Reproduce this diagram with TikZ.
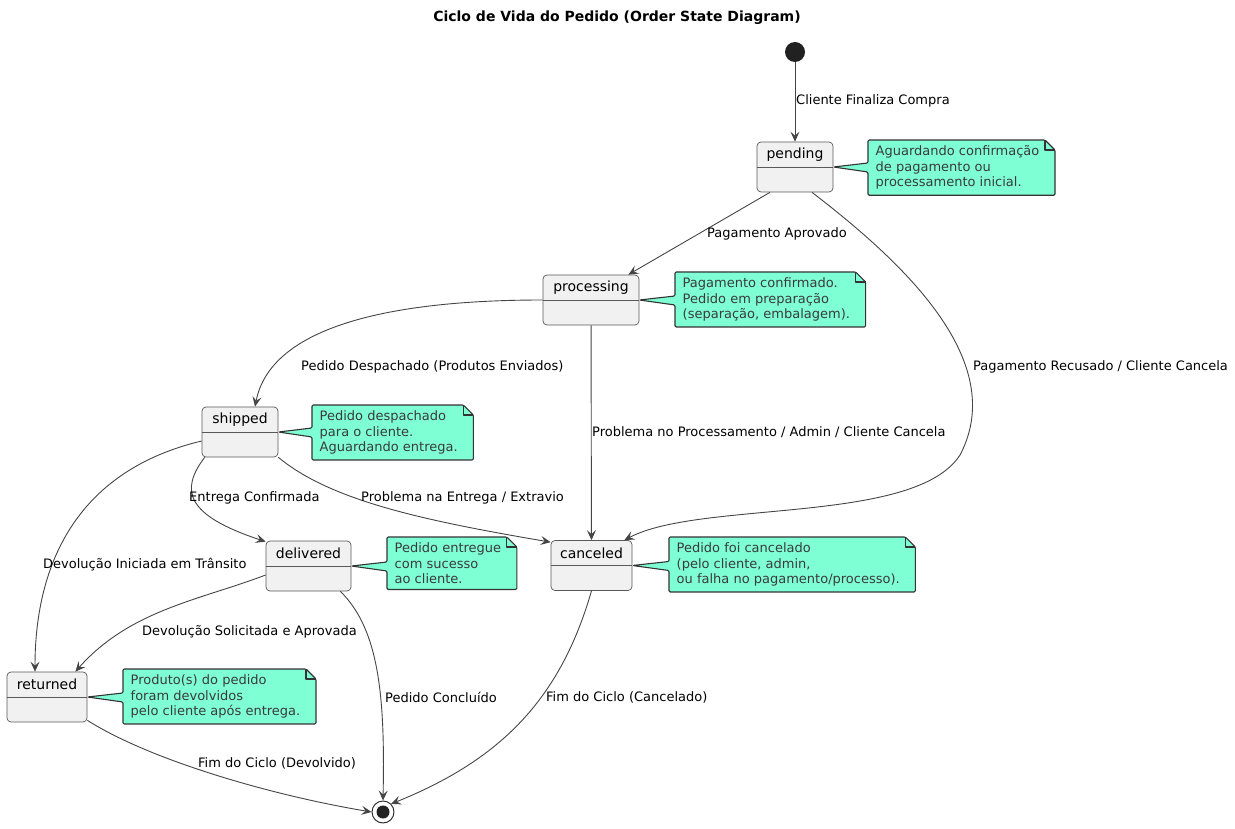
\documentclass[tikz,border=0pt]{standalone}
\usepackage{fontspec}
\setmainfont{DejaVu Sans}
\usetikzlibrary{arrows.meta,calc,backgrounds}
\definecolor{notefill}{HTML}{7FFFD4}
\definecolor{statefill}{HTML}{F1F1F1}
\definecolor{edgecol}{HTML}{454545}
\definecolor{notetxt}{HTML}{3A3A3A}
\tikzset{
  statebox/.style={draw=black!65, fill=statefill, rounded corners=4pt, line width=0.7pt, minimum height=50pt, inner sep=0pt},
  statename/.style={font=\fontsize{14}{16}\selectfont, inner sep=0pt},
  sep/.style={draw=black!65, line width=0.7pt},
  notebody/.style={align=left, anchor=north west, inner xsep=7.5pt, inner ysep=5.5pt, text=notetxt, font=\fontsize{13}{15.5}\selectfont},
  noteshape/.style={fill=notefill, draw=black!80, line width=1.1pt, line join=round, rounded corners=1.2pt},
  edge/.style={draw=edgecol, line width=0.9pt, -{Stealth[length=10pt,width=9pt,inset=4pt]}},
  lbl/.style={anchor=west, inner sep=0pt, font=\fontsize{13}{15}\selectfont},
}
\newcommand{\mkstate}[4]{% name, center, width, text
  \node[statebox, minimum width=#3] (#1) at #2 {};
  \node[statename] (#1-name) at ($(#1.north)!0.5!(#1.center)$) {#4};
  \draw[sep] (#1.west) -- (#1.east);
}
\newcommand{\drawnote}[2]{% note node, tip anchor (no parentheses)
  \begin{scope}[on background layer]
  \path[noteshape] (#1.north west) -- ($(#1.north east)+(-2,0)$) -- ($(#1.north east)+(8,10)$)
     -- ($(#1.south east)+(8,0)$) -- (#1.south west) -- ($(#1.west |- #2)+(0,5)$) -- (#2)
     -- ($(#1.west |- #2)+(0,-4)$) -- cycle;
  \draw[black!80, line width=1.1pt, line join=round] ($(#1.north east)+(-2,0)$) -- ($(#1.north east)+(-2,10)$) -- ($(#1.north east)+(8,10)$);
  \end{scope}
}
\begin{document}
\begin{tikzpicture}[x=1pt,y=-1pt]
\useasboundingbox (0,0) rectangle (1235,829);
\node[font=\fontsize{14}{16}\selectfont\bfseries] (title) at (617,18) {Ciclo de Vida do Pedido (Order State Diagram)};

% initial and final
\node[circle, fill=black!87, minimum size=20pt, inner sep=0pt] (init) at (795,52) {};
\node[circle, draw=black!87, line width=0.9pt, minimum size=22pt, inner sep=0pt] (final) at (383,812) {};
\node[circle, fill=black!87, minimum size=13pt, inner sep=0pt] (finaldot) at (final.center) {};

% states
\mkstate{pending}{(795,167)}{76pt}{pending}
\mkstate{processing}{(591,300)}{96pt}{processing}
\mkstate{shipped}{(240,432)}{76pt}{shipped}
\mkstate{delivered}{(308.5,566)}{85pt}{delivered}
\mkstate{canceled}{(591.5,565.5)}{81pt}{canceled}
\mkstate{returned}{(47,697)}{80pt}{returned}

% notes
\node[notebody] (npending) at (868,140) {Aguardando confirmação\\de pagamento ou\\processamento inicial.};
\drawnote{npending}{pending.east}
\node[notebody] (nprocessing) at (675,272) {Pagamento confirmado.\\Pedido em preparação\\(separação, embalagem).};
\drawnote{nprocessing}{processing.east}
\node[notebody] (nshipped) at (312,405) {Pedido despachado\\para o cliente.\\Aguardando entrega.};
\drawnote{nshipped}{shipped.east}
\node[notebody] (ndelivered) at (387,537) {Pedido entregue\\com sucesso\\ao cliente.};
\drawnote{ndelivered}{delivered.east}
\node[notebody] (ncanceled) at (669,537) {Pedido foi cancelado\\(pelo cliente, admin,\\ou falha no pagamento/processo).};
\drawnote{ncanceled}{canceled.east}
\node[notebody] (nreturned) at (123,669) {Produto(s) do pedido\\foram devolvidos\\pelo cliente após entrega.};
\drawnote{nreturned}{returned.east}

% edges
\draw[edge] (init) -- (pending.north);
\node[lbl] (l1) at (796,101) {Cliente Finaliza Compra};

\draw[edge] ($(pending.south)+(-25,0)$) -- ($(processing.north east)+(-11,0)$);
\node[lbl] (l2) at (707,234) {Pagamento Aprovado};

\draw[edge] ($(pending.south)+(17,0)$) .. controls (900,260) and (1010,360) .. (960,455)
   .. controls (915,525) and (700,500) .. ($(canceled.north east)+(-8,0)$);
\node[lbl] (l3) at (973,367) {Pagamento Recusado / Cliente Cancela};

\draw[edge] (processing.west) .. controls (380,300) and (270,330) .. ($(shipped.north)+(15,0)$);
\node[lbl] (l4) at (301,367) {Pedido Despachado (Produtos Enviados)};

\draw[edge] (processing) -- (canceled);
\node[lbl] (l5) at (592,432) {Problema no Processamento / Admin / Cliente Cancela};

\draw[edge] ($(shipped.west)+(0,9)$) .. controls (80,470) and (35,560) .. ($(returned.north)+(-12,0)$);
\node[lbl] (l6) at (43,565) {Devolução Iniciada em Trânsito};

\draw[edge] ($(shipped.south west)+(3,0)$) .. controls (180,490) and (185,515) .. ($(delivered.north west)+(0,1)$);
\node[lbl] (l7) at (189,498) {Entrega Confirmada};

\draw[edge] (shipped.south east) .. controls (330,500) and (420,520) .. ($(canceled.north west)+(0,2)$);
\node[lbl] (l8) at (361,498) {Problema na Entrega / Extravio};

\draw[edge] ($(delivered.west)+(0,9)$) .. controls (200,600) and (130,610) .. ($(returned.north east)+(-12,0)$);
\node[lbl] (l9) at (142,632) {Devolução Solicitada e Aprovada};

\draw[edge] ($(delivered.south east)+(-11,0)$) .. controls (380,630) and (385,700) .. (final.north);
\node[lbl] (l10) at (385,697) {Pedido Concluído};

\draw[edge] (canceled.south) .. controls (560,700) and (500,760) .. (final.north east);
\node[lbl] (l11) at (546,697) {Fim do Ciclo (Cancelado)};

\draw[edge] ($(returned.south east)+(0,-2)$) .. controls (150,760) and (270,795) .. (final.west);
\node[lbl] (l12) at (198,763) {Fim do Ciclo (Devolvido)};
\end{tikzpicture}
\end{document}
